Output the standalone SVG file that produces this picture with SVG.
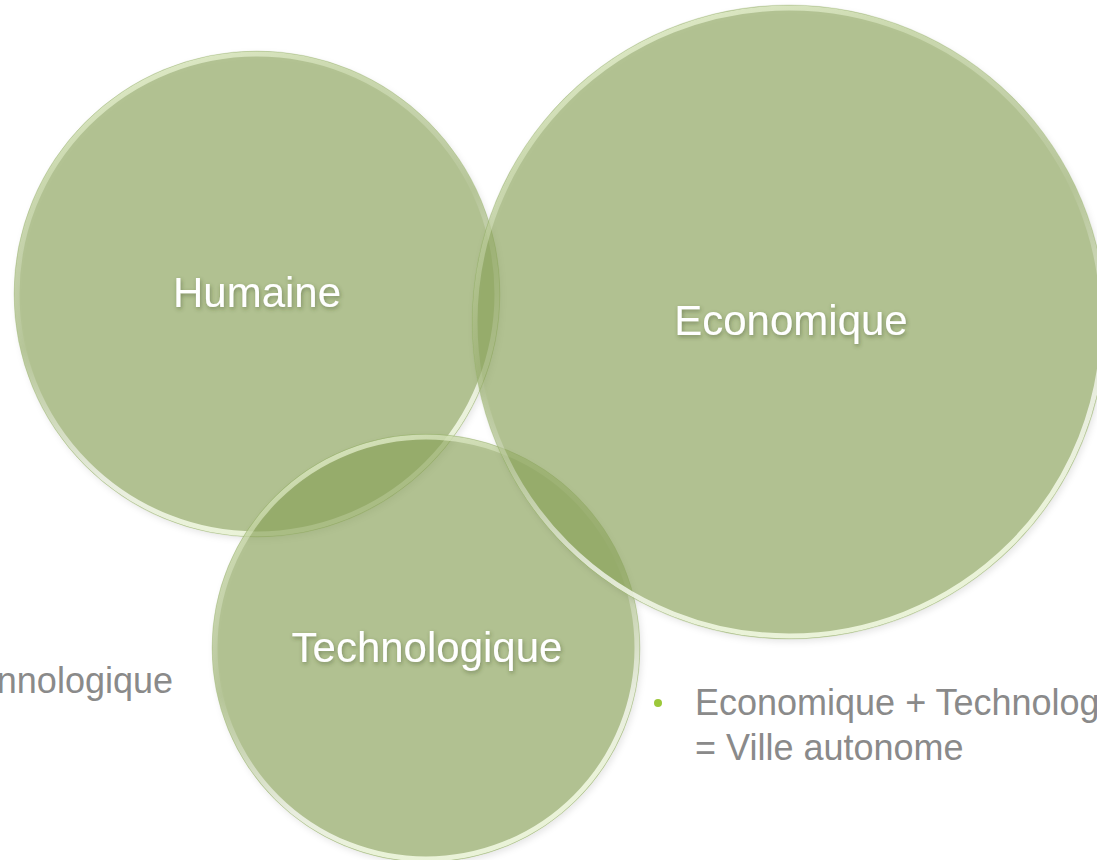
<svg xmlns="http://www.w3.org/2000/svg" width="1097" height="860" viewBox="0 0 1097 860">
<style>
.disc{fill:#8aa458;fill-opacity:0.62;}
.rim{fill:none;stroke:url(#rimGrad);stroke-width:5;}
.edge{fill:none;stroke:#9fb878;stroke-opacity:0.3;stroke-width:1;}
.title{font-family:"Liberation Sans",Arial,sans-serif;font-size:42px;fill:#ffffff;text-anchor:middle;filter:url(#txtShadow);}
.body{font-family:"Liberation Sans",Arial,sans-serif;font-size:36px;fill:#8a8a8a;}
</style>
<defs>
<linearGradient id="rimGrad" x1="0" y1="0" x2="0.35" y2="1">
<stop offset="0" stop-color="#f2fadf" stop-opacity="0.95"/>
<stop offset="0.25" stop-color="#e4f0cc" stop-opacity="0.45"/>
<stop offset="0.55" stop-color="#ffffff" stop-opacity="0.05"/>
<stop offset="0.85" stop-color="#ffffff" stop-opacity="0.7"/>
<stop offset="1" stop-color="#f0f8e0" stop-opacity="0.9"/>
</linearGradient>
<filter id="shadow" x="-10%" y="-10%" width="120%" height="120%">
<feDropShadow dx="2" dy="3" stdDeviation="3" flood-color="#000" flood-opacity="0.15"/>
</filter>
<filter id="txtShadow" x="-10%" y="-30%" width="120%" height="160%">
<feDropShadow dx="1" dy="2" stdDeviation="2" flood-color="#3a4a20" flood-opacity="0.45"/>
</filter>
</defs>

<g id="node-humaine">
<circle class="disc" cx="257" cy="294" r="243" filter="url(#shadow)"/>
<circle class="rim" cx="257" cy="294" r="240"/>
<circle class="edge" cx="257" cy="294" r="243"/>
<text class="title" x="257" y="307">Humaine</text>
</g>

<g id="node-technologique">
<circle class="disc" cx="426" cy="648" r="214" filter="url(#shadow)"/>
<circle class="rim" cx="426" cy="648" r="211"/>
<circle class="edge" cx="426" cy="648" r="214"/>
<text class="title" x="427" y="662">Technologique</text>
</g>

<g id="node-economique">
<circle class="disc" cx="789" cy="322" r="317" filter="url(#shadow)"/>
<circle class="rim" cx="789" cy="322" r="314"/>
<circle class="edge" cx="789" cy="322" r="317"/>
<text class="title" x="791" y="335">Economique</text>
</g>

<g id="connectors"></g>

<g id="notes">
<text class="body" x="173" y="693" text-anchor="end">nnologique</text>
<circle cx="658" cy="703" r="4" fill="#9cc83a"/>
<text class="body" x="695" y="715">Economique + Technolog</text>
<text class="body" x="695" y="760">= Ville autonome</text>
</g>
</svg>
